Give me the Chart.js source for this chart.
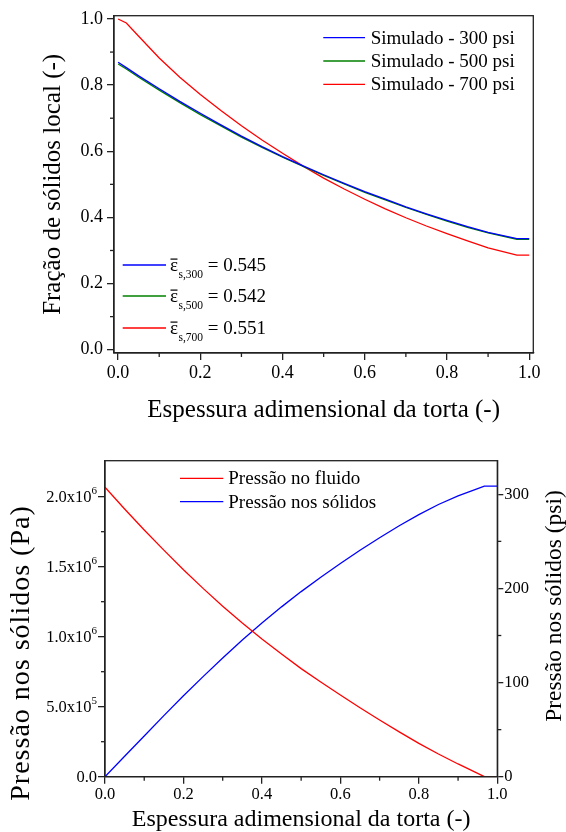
<!DOCTYPE html>
<html>
<head>
<meta charset="utf-8">
<script src="https://cdn.jsdelivr.net/npm/chart.js@4.4.1/dist/chart.umd.min.js"></script>
<style>
  html, body { margin: 0; padding: 0; background: #fff; }
  #wrap { position: relative; width: 566px; height: 832px; }
  canvas { position: absolute; left: 0; }
  #top { top: 0; }
  #bot { top: 440px; }
</style>
</head>
<body>
<div id="wrap">
  <canvas id="top" width="566" height="440"></canvas>
  <canvas id="bot" width="566" height="392"></canvas>
</div>
<script>
// Top panel: local solids fraction along the cake, one curve per pressure.
var thickness = [0, 0.02, 0.05, 0.1, 0.15, 0.2, 0.25, 0.3, 0.35, 0.4, 0.45, 0.5, 0.55, 0.6, 0.65, 0.7, 0.75, 0.8, 0.85, 0.9, 0.97, 1.0];
var solids300 = [0.869, 0.853, 0.828, 0.789, 0.751, 0.715, 0.680, 0.646, 0.614, 0.584, 0.556, 0.529, 0.503, 0.478, 0.455, 0.432, 0.411, 0.391, 0.372, 0.355, 0.336, 0.336];
var solids500 = [0.864, 0.849, 0.824, 0.785, 0.747, 0.711, 0.677, 0.643, 0.612, 0.582, 0.554, 0.527, 0.501, 0.476, 0.453, 0.430, 0.409, 0.389, 0.370, 0.353, 0.334, 0.334];
var solids700 = [1.000, 0.988, 0.948, 0.882, 0.824, 0.772, 0.723, 0.677, 0.634, 0.594, 0.555, 0.519, 0.486, 0.455, 0.426, 0.399, 0.374, 0.351, 0.329, 0.308, 0.286, 0.286];
var seriesLabels = ["Simulado - 300 psi", "Simulado - 500 psi", "Simulado - 700 psi"];
var meanSubs = ["s,300", "s,500", "s,700"];
var meanValues = ["0.545", "0.542", "0.551"];

// Bottom panel: fluid and solids pressure along the cake (Pa).
var thicknessP = [0, 0.05, 0.1, 0.15, 0.2, 0.25, 0.3, 0.35, 0.4, 0.45, 0.5, 0.55, 0.6, 0.65, 0.7, 0.75, 0.8, 0.85, 0.9, 0.95, 0.967, 1.0];
var fluidPa = [2067000, 1912000, 1762000, 1618000, 1478000, 1345000, 1218000, 1098000, 984000, 876000, 772000, 676000, 584000, 493000, 405000, 320000, 238000, 162000, 91000, 24000, 0, 0];
var solidsPa = [0, 146000, 291000, 436000, 578000, 715000, 848000, 976000, 1098000, 1213000, 1322000, 1425000, 1523000, 1617000, 1707000, 1792000, 1872000, 1944000, 2006000, 2058000, 2076000, 2076000];
var pressureLabels = ["Pressão no fluido", "Pressão nos sólidos"];

// ticks
var xTicks = [0, 0.2, 0.4, 0.6, 0.8, 1.0];
var xMinor = [0.1, 0.3, 0.5, 0.7, 0.9];
var fracTicks = [0, 0.2, 0.4, 0.6, 0.8, 1.0];
var fracMinor = [0.1, 0.3, 0.5, 0.7, 0.9];
var paTicks = [0, 500000, 1000000, 1500000, 2000000];
var paMinor = [250000, 750000, 1250000, 1750000];
var paMantissa = ["0.0", "5.0", "1.0", "1.5", "2.0"];
var paExponent = ["", "5", "6", "6", "6"];
var psiTicks = [0, 100, 200, 300];
var psiMinor = [50, 150, 250];

var SERIF = "'Liberation Serif', 'Times New Roman', serif";
var INK = "#000";
var AXIS = "#222";

function zip(xs, ys) {
  return xs.map(function (x, i) { return { x: x, y: ys[i] }; });
}

function fixedTicks(values) {
  return function (scale) {
    scale.ticks = values.map(function (v) { return { value: v }; });
  };
}

function axisBase(ticks, tickLen, fontSize, pad) {
  return {
    type: "linear",
    afterBuildTicks: fixedTicks(ticks),
    grid: { drawOnChartArea: false, drawTicks: true, tickLength: tickLen, color: AXIS, lineWidth: 1.3 },
    border: { display: true, color: AXIS, width: 1.3 },
    ticks: {
      autoSkip: false, maxRotation: 0, color: INK, padding: pad,
      font: { family: SERIF, size: fontSize },
      callback: function (v) { return Number(v).toFixed(1); },
    },
  };
}

// frame + short minor tick marks, drawn from the chart's own scales
function frameAndMinor(minor) {
  return {
    id: "frameAndMinor",
    afterDraw: function (chart) {
      var ctx = chart.ctx, a = chart.chartArea;
      ctx.save();
      ctx.strokeStyle = AXIS;
      ctx.lineWidth = 1.3;
      ctx.strokeRect(a.left, a.top, a.right - a.left, a.bottom - a.top);
      Object.keys(minor).forEach(function (id) {
        var s = chart.scales[id];
        minor[id].forEach(function (v) {
          var p = s.getPixelForValue(v);
          ctx.beginPath();
          if (s.position === "bottom") { ctx.moveTo(p, s.top); ctx.lineTo(p, s.top + 4); }
          else if (s.position === "left") { ctx.moveTo(s.right - 4, p); ctx.lineTo(s.right, p); }
          else { ctx.moveTo(s.left, p); ctx.lineTo(s.left + 4, p); }
          ctx.stroke();
        });
      });
      ctx.restore();
    },
  };
}

// ---------- top chart ----------
var topLegend = {
  id: "topLegend",
  afterDraw: function (chart) {
    var ctx = chart.ctx;
    var ds = chart.data.datasets;
    ctx.save();
    ctx.lineWidth = 1.3;
    ctx.fillStyle = INK;
    ctx.font = "19px " + SERIF;
    ctx.textBaseline = "middle";
    var rows = [37.7, 61, 84.3];
    ds.forEach(function (d, i) {
      ctx.strokeStyle = d.borderColor;
      ctx.beginPath(); ctx.moveTo(323.3, rows[i]); ctx.lineTo(365, rows[i]); ctx.stroke();
      ctx.fillText(d.label, 370.7, rows[i] + 1);
    });
    // mean porosity box, lower left
    var rows2 = [265, 296, 328];
    ctx.textBaseline = "alphabetic";
    ds.forEach(function (d, i) {
      var y = rows2[i];
      ctx.strokeStyle = d.borderColor;
      ctx.beginPath(); ctx.moveTo(122.7, y); ctx.lineTo(166, y); ctx.stroke();
      ctx.font = "19px " + SERIF;
      var x = 170;
      ctx.fillText("ε", x, y + 6);
      var ew = ctx.measureText("ε").width;
      ctx.fillRect(x + 0.5, y - 6.5, ew - 1, 1.2);
      x += ew + 0.5;
      ctx.font = "11.5px " + SERIF;
      ctx.fillText(meanSubs[i], x, y + 12.5);
      x += ctx.measureText(meanSubs[i]).width;
      ctx.font = "19px " + SERIF;
      ctx.fillText(" = " + meanValues[i], x, y + 6);
    });
    ctx.restore();
  },
};

var topX = axisBase(xTicks, 7, 18, 2);
topX.min = -0.01; topX.max = 1.01;
topX.afterFit = function (s) { s.height = 87; };
topX.title = {
  display: true, text: "Espessura adimensional da torta (-)", color: INK,
  font: { family: SERIF, size: 25, lineHeight: 1 }, padding: { top: 0, bottom: 17.5 },
};

var topY = axisBase(fracTicks, 7, 18, 4);
topY.position = "left";
topY.min = -0.01; topY.max = 1.01;
topY.afterFit = function (s) { s.width = 114; };
topY.title = {
  display: true, text: "Fração de sólidos local (-)", color: INK,
  font: { family: SERIF, size: 25, lineHeight: 1 }, padding: { top: 40.5, bottom: 0 },
};

new Chart(document.getElementById("top"), {
  type: "line",
  data: {
    datasets: [
      { label: seriesLabels[0], data: zip(thickness, solids300), borderColor: "#0000ff" },
      { label: seriesLabels[1], data: zip(thickness, solids500), borderColor: "#008000" },
      { label: seriesLabels[2], data: zip(thickness, solids700), borderColor: "#ff0000" },
    ],
  },
  options: {
    responsive: false,
    animation: false,
    layout: { padding: { left: 0, right: 32.7, top: 15.7, bottom: 0 } },
    elements: { point: { radius: 0 }, line: { borderWidth: 1.3, tension: 0 } },
    plugins: { legend: { display: false }, tooltip: { enabled: false } },
    scales: { x: topX, y: topY },
  },
  plugins: [frameAndMinor({ x: xMinor, y: fracMinor }), topLegend],
});

// ---------- bottom chart ----------
var botDecor = {
  id: "botDecor",
  afterDraw: function (chart) {
    var ctx = chart.ctx;
    var ds = chart.data.datasets;
    var ys = chart.scales.y;
    ctx.save();
    ctx.fillStyle = INK;
    // Pa tick labels with a raised exponent
    ctx.textBaseline = "middle";
    paTicks.forEach(function (v, i) {
      var py = ys.getPixelForValue(v);
      var right = ys.right - 8;
      ctx.font = "11px " + SERIF;
      var ew = paExponent[i] ? ctx.measureText(paExponent[i]).width : 0;
      ctx.textAlign = "left";
      if (ew) ctx.fillText(paExponent[i], right - ew, py - 6);
      ctx.font = "16.5px " + SERIF;
      ctx.textAlign = "right";
      ctx.fillText(paMantissa[i] + (ew ? "x10" : ""), right - ew, py + 1);
    });
    // legend
    ctx.textAlign = "left";
    ctx.font = "19px " + SERIF;
    ctx.lineWidth = 1.3;
    var rows = [38.3, 61.7];
    ds.forEach(function (d, i) {
      ctx.strokeStyle = d.borderColor;
      ctx.beginPath(); ctx.moveTo(180, rows[i]); ctx.lineTo(223.3, rows[i]); ctx.stroke();
      ctx.fillText(d.label, 228.3, rows[i] + 1);
    });
    // y titles, both reading bottom to top
    ctx.textAlign = "center";
    ctx.save();
    ctx.translate(22, 213);
    ctx.rotate(-Math.PI / 2);
    ctx.font = "28px " + SERIF;
    ctx.letterSpacing = "1px";
    ctx.fillText("Pressão nos sólidos (Pa)", 0, 0);
    ctx.restore();
    ctx.save();
    ctx.translate(555, 166);
    ctx.rotate(-Math.PI / 2);
    ctx.font = "23.5px " + SERIF;
    ctx.fillText("Pressão nos sólidos (psi)", 0, 0);
    ctx.restore();
    ctx.restore();
  },
};

var botX = axisBase(xTicks, 7, 16.5, 1);
botX.min = 0; botX.max = 1;
botX.afterFit = function (s) { s.height = 55.3; };
botX.title = {
  display: true, text: "Espessura adimensional da torta (-)", color: INK,
  font: { family: SERIF, size: 24, lineHeight: 1 }, padding: { top: 0, bottom: 0 },
};

var botY = axisBase(paTicks, 7, 16.5, 1);
botY.position = "left";
botY.min = 0; botY.max = 2257000;
botY.ticks.callback = function () { return ""; };
botY.afterFit = function (s) { s.width = 105; };

var botY2 = axisBase(psiTicks, 6, 16.5, 1);
botY2.position = "right";
botY2.display = true;
botY2.min = 0; botY2.max = 335.7;
botY2.ticks.callback = function (v) { return String(v); };
botY2.afterFit = function (s) { s.width = 68.7; };

new Chart(document.getElementById("bot"), {
  type: "line",
  data: {
    datasets: [
      { label: pressureLabels[0], data: zip(thicknessP, fluidPa), borderColor: "#ff0000", yAxisID: "y" },
      { label: pressureLabels[1], data: zip(thicknessP, solidsPa), borderColor: "#0000ff", yAxisID: "y" },
    ],
  },
  options: {
    responsive: false,
    animation: false,
    layout: { padding: { left: 0, right: 0, top: 20.7, bottom: 0 } },
    elements: { point: { radius: 0 }, line: { borderWidth: 1.3, tension: 0 } },
    plugins: { legend: { display: false }, tooltip: { enabled: false } },
    scales: { x: botX, y: botY, y2: botY2 },
  },
  plugins: [frameAndMinor({ x: xMinor, y: paMinor, y2: psiMinor }), botDecor],
});
</script>
</body>
</html>
